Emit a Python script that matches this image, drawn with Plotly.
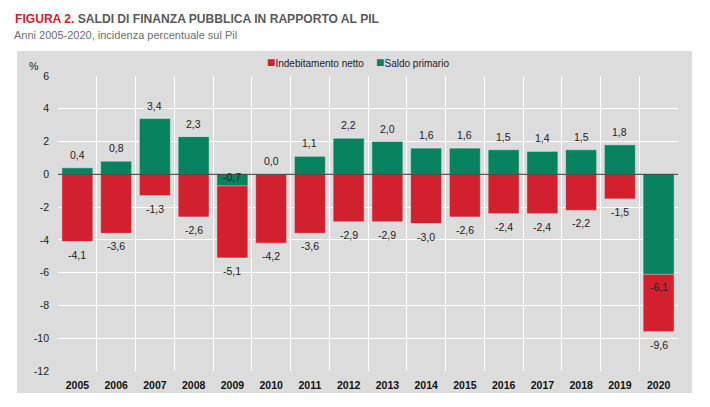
import plotly.graph_objects as go

anni = ["2005", "2006", "2007", "2008", "2009", "2010", "2011", "2012",
        "2013", "2014", "2015", "2016", "2017", "2018", "2019", "2020"]
indebitamento = [-4.1, -3.6, -1.3, -2.6, -5.1, -4.2, -3.6, -2.9,
                 -2.9, -3.0, -2.6, -2.4, -2.4, -2.2, -1.5, -9.6]
saldo_primario = [0.4, 0.8, 3.4, 2.3, -0.7, 0.0, 1.1, 2.2,
                  2.0, 1.6, 1.6, 1.5, 1.4, 1.5, 1.8, -6.1]
tick_y = [6, 4, 2, 0, -2, -4, -6, -8, -10, -12]

ROSSO = "#D2202F"
VERDE = "#06825F"
GRIGIO = "#DCDCDC"
FONT = "Liberation Sans"


def etichetta(v):
    return f"{v:.1f}".replace(".", ",")


fig = go.Figure()
fig.add_trace(go.Bar(x=anni, y=indebitamento, name="Indebitamento netto", marker=dict(color=ROSSO)))
fig.add_trace(go.Bar(x=anni, y=saldo_primario, name="Saldo primario", marker=dict(color=VERDE)))

# etichette dei valori (x come indice di categoria)
for i, v in enumerate(indebitamento):
    fig.add_annotation(x=i, y=v, text=etichetta(v), showarrow=False, yanchor="top", yshift=-5)
for i, v in enumerate(saldo_primario):
    if v >= 0:
        fig.add_annotation(x=i, y=v, text=etichetta(v), showarrow=False, yanchor="bottom", yshift=5)
    elif v > -1:
        # -0,7 sta dentro la barra
        fig.add_annotation(x=i, y=v, text=etichetta(v), showarrow=False, yanchor="bottom", yshift=1)
    else:
        fig.add_annotation(x=i, y=v, text=etichetta(v), showarrow=False, yanchor="top", yshift=-5)

fig.add_annotation(xref="paper", yref="paper", x=-0.05, y=1.035, text="%", showarrow=False,
                   xanchor="left", yanchor="middle")
fig.update_annotations(font=dict(family=FONT, size=10.5, color="#222222"))

fig.add_annotation(xref="paper", yref="paper", x=-0.0742, y=1.139, text="Anni 2005-2020, incidenza percentuale sul Pil",
                   showarrow=False, xanchor="left", yanchor="middle",
                   font=dict(family=FONT, size=11, color="#6D6E71"))

# legenda a mano: quella di plotly ha simboli e spazi troppo larghi
fig.add_annotation(xref="paper", yref="paper", x=0.3339, y=1.0475, showarrow=False, xanchor="left", yanchor="middle",
                   text=f"<span style='color:{ROSSO};font-size:14px'>■</span>Indebitamento netto",
                   font=dict(family=FONT, size=10, color="#222222"))
fig.add_annotation(xref="paper", yref="paper", x=0.5097, y=1.0475, showarrow=False, xanchor="left", yanchor="middle",
                   text=f"<span style='color:{VERDE};font-size:14px'>■</span>Saldo primario",
                   font=dict(family=FONT, size=10, color="#222222"))

# sfondo grigio del riquadro
fig.add_shape(type="rect", xref="paper", yref="paper", x0=-0.0661, x1=1.0226, y0=-0.0746, y1=1.0847,
              fillcolor=GRIGIO, line=dict(width=0), layer="below")
# linea dello zero sopra le barre
fig.add_shape(type="line", xref="paper", x0=0, x1=1, y0=0, y1=0, line=dict(color="#383838", width=1))

# la pagina ha 8 px di margine: la figura parte da (8, 8)
fig.update_layout(
    width=694,
    height=391,
    margin=dict(l=50, r=24, t=68, b=28, autoexpand=False),
    barmode="overlay",
    bargap=0.2,
    paper_bgcolor="white",
    plot_bgcolor=GRIGIO,
    font=dict(family=FONT, color="#222222"),
    title=dict(text=f"<b><span style='color:{ROSSO}'>FIGURA 2.</span> SALDI DI FINANZA PUBBLICA IN RAPPORTO AL PIL</b>",
               x=7 / 694, xanchor="left", y=0.972, yanchor="middle",
               font=dict(family=FONT, size=12.1, color="#58595B")),
    showlegend=False,
)
fig.update_xaxes(type="category", range=[-0.5, 15.5], tickson="boundaries", showgrid=True, gridcolor="white", gridwidth=1,
                 ticks="", tickangle=0, ticklabelstandoff=6, automargin=False,
                 tickfont=dict(family=FONT, size=10.5, weight=700, color="#111111"),
                 showline=False, zeroline=False)
fig.update_yaxes(range=[-12, 6], tickvals=tick_y, ticktext=[str(t) for t in tick_y],
                 showgrid=True, gridcolor="white", gridwidth=1, zeroline=False, automargin=False,
                 ticks="", ticklabelstandoff=8, tickfont=dict(family=FONT, size=10.5, color="#222222"))

fig.write_html("out.html")
